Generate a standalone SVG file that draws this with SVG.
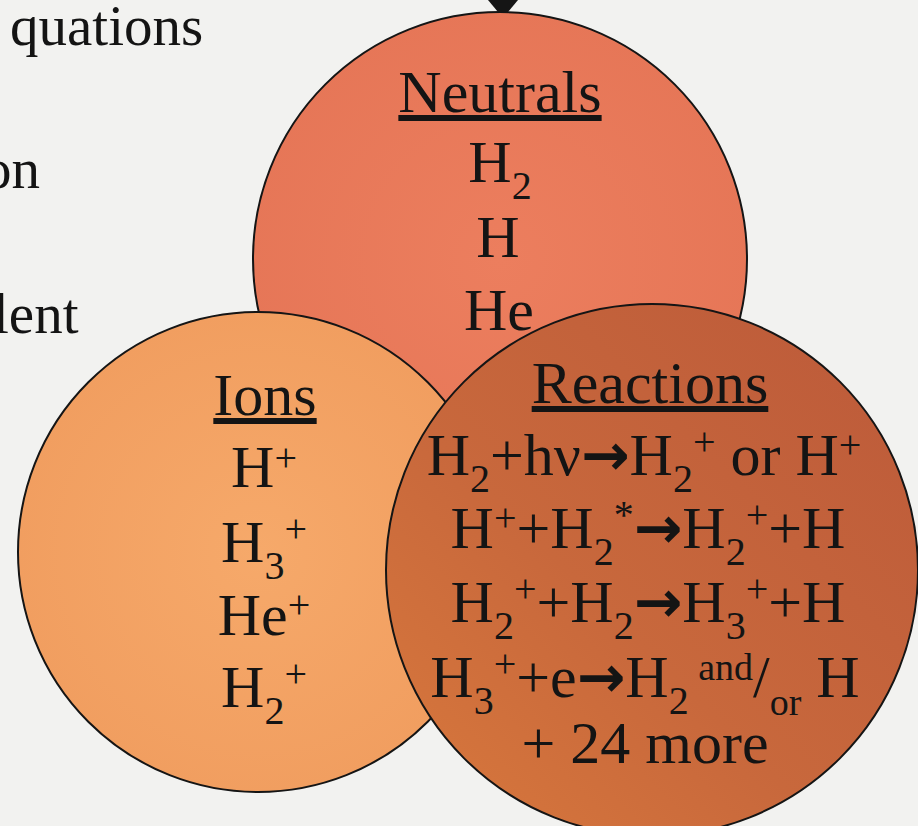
<svg xmlns="http://www.w3.org/2000/svg" width="918" height="826" viewBox="0 0 918 826">
  <defs>
    <style>
      .t { font-family: "Liberation Serif", "Times New Roman", serif; font-size: 60px; fill: #141414; text-anchor: middle; }
      .side { font-family: "Liberation Serif", "Times New Roman", serif; font-size: 57px; fill: #141414; }
      .s { font-size: 40px; }
      .xs { font-size: 38px; }
      .ar { font-family: "DejaVu Sans", sans-serif; font-weight: bold; font-size: 58px; }
      .hd { text-decoration: underline; }
      .c { stroke: #151515; stroke-width: 2; }
    </style>
    <radialGradient id="gTop" cx="0.5" cy="0.5" r="0.6">
      <stop offset="0" stop-color="#EC7E5E"/>
      <stop offset="1" stop-color="#E57556"/>
    </radialGradient>
    <radialGradient id="gLeft" cx="0.5" cy="0.5" r="0.6">
      <stop offset="0" stop-color="#F6A96A"/>
      <stop offset="1" stop-color="#F09C5E"/>
    </radialGradient>
    <linearGradient id="gRight" x1="0.9" y1="0.1" x2="0.1" y2="0.9">
      <stop offset="0" stop-color="#BE5C3A"/>
      <stop offset="0.6" stop-color="#C8683C"/>
      <stop offset="1" stop-color="#D5753C"/>
    </linearGradient>
    <marker id="arr" markerWidth="30" markerHeight="50" viewBox="0 0 30 50" refX="0" refY="25" orient="auto" markerUnits="userSpaceOnUse">
      <path d="M0,0 L30,25 L0,50 z" fill="#151515"/>
    </marker>
  </defs>

  <rect x="0" y="0" width="918" height="826" fill="#F2F2F0"/>

  <g id="side-text">
    <text class="side" x="10" y="45">quations</text>
    <text class="side" x="-17" y="188">on</text>
    <text class="side" x="-7" y="333">lent</text>
  </g>

  <g id="connectors">
    <line x1="503" y1="-40" x2="503" y2="-12" stroke="#151515" stroke-width="3" marker-end="url(#arr)"/>
  </g>

  <g id="neutrals">
    <circle class="c" cx="500" cy="259" r="247" fill="url(#gTop)"/>
    <text class="t hd" x="500" y="112">Neutrals</text>
    <text class="t" x="500" y="182">H<tspan class="s" dy="17">2</tspan></text>
    <text class="t" x="498" y="257">H</text>
    <text class="t" x="499" y="330">He</text>
  </g>

  <g id="ions">
    <circle class="c" cx="258" cy="552" r="240" fill="url(#gLeft)"/>
    <text class="t hd" x="265" y="415">Ions</text>
    <text class="t" x="264" y="487">H<tspan class="s" dy="-16">+</tspan></text>
    <text class="t" x="264" y="562">H<tspan class="s" dy="17">3</tspan><tspan class="s" dy="-37">+</tspan></text>
    <text class="t" x="264" y="635">He<tspan class="s" dy="-17">+</tspan></text>
    <text class="t" x="264" y="707">H<tspan class="s" dy="17">2</tspan><tspan class="s" dy="-37">+</tspan></text>
  </g>

  <g id="reactions">
    <circle class="c" cx="652" cy="570" r="266" fill="url(#gRight)"/>
    <text class="t hd" x="650" y="403">Reactions</text>
    <text class="t" x="644" y="475">H<tspan class="s" dy="17">2</tspan><tspan dy="-17">+hν</tspan><tspan class="ar">→</tspan>H<tspan class="s" dy="17">2</tspan><tspan class="s" dy="-37">+</tspan><tspan dy="20"> or H</tspan><tspan class="s" dy="-17">+</tspan></text>
    <text class="t" x="648" y="548">H<tspan class="s" dy="-17">+</tspan><tspan dy="17">+H</tspan><tspan class="s" dy="17">2</tspan><tspan class="s" dy="-37">*</tspan><tspan class="ar" dy="20">→</tspan>H<tspan class="s" dy="17">2</tspan><tspan class="s" dy="-37">+</tspan><tspan dy="20">+H</tspan></text>
    <text class="t" x="648" y="622">H<tspan class="s" dy="17">2</tspan><tspan class="s" dy="-37">+</tspan><tspan dy="20">+H</tspan><tspan class="s" dy="17">2</tspan><tspan class="ar" dy="-17">→</tspan>H<tspan class="s" dy="17">3</tspan><tspan class="s" dy="-37">+</tspan><tspan dy="20">+H</tspan></text>
    <text class="t" x="645" y="697">H<tspan class="s" dy="17">3</tspan><tspan class="s" dy="-37">+</tspan><tspan dy="20">+e</tspan><tspan class="ar">→</tspan>H<tspan class="s" dy="17">2</tspan><tspan class="xs" dy="-34"> and</tspan><tspan dy="17">/</tspan><tspan class="xs" dy="18">or</tspan><tspan dy="-18"> H</tspan></text>
    <text class="t" x="645" y="763">+ 24 more</text>
  </g>
</svg>
